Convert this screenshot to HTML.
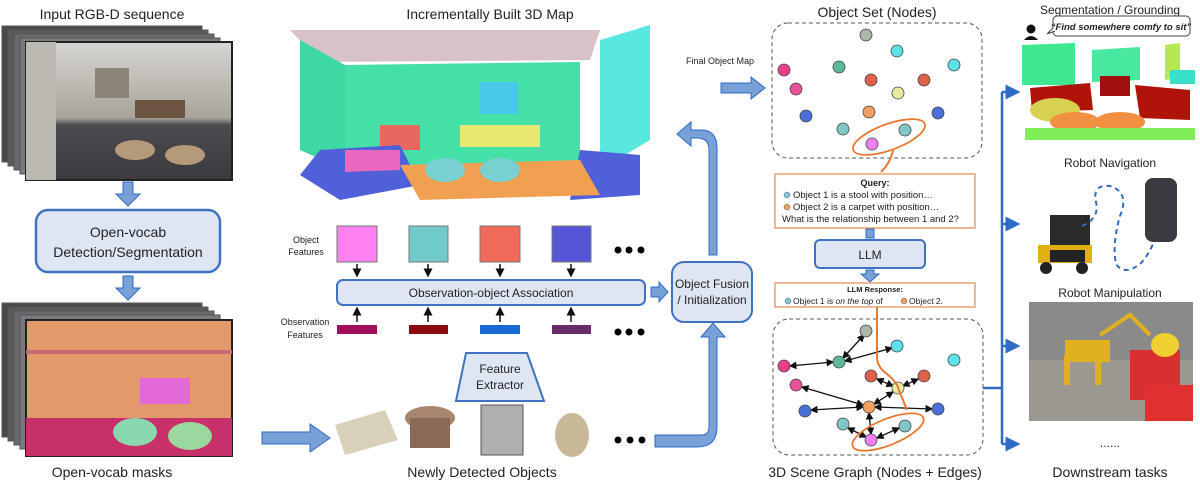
<!DOCTYPE html>
<html><head><meta charset="utf-8"><style>
body{margin:0;background:#fff;}
svg{display:block;font-family:"Liberation Sans",sans-serif;}
</style></head><body>
<svg width="1200" height="488" viewBox="0 0 1200 488" xmlns="http://www.w3.org/2000/svg">
<defs>
<marker id="ah" markerWidth="6" markerHeight="6" refX="5" refY="3" orient="auto"><path d="M0,0 L6,3 L0,6 z" fill="#111"/></marker>
<marker id="ahs" markerWidth="6" markerHeight="6" refX="1" refY="3" orient="auto"><path d="M6,0 L0,3 L6,6 z" fill="#111"/></marker>
<marker id="bh" markerWidth="6" markerHeight="6" refX="5" refY="3" orient="auto"><path d="M0,0 L6,3 L0,6 z" fill="#2f6bc4"/></marker>
<linearGradient id="room" x1="0" y1="0" x2="0" y2="1"><stop offset="0" stop-color="#d8d6d2"/><stop offset="0.55" stop-color="#a8a49c"/><stop offset="0.6" stop-color="#4c4c50"/><stop offset="1" stop-color="#3a3a3e"/></linearGradient>
</defs>

<text x="112" y="19" font-size="14" text-anchor="middle" fill="#222">Input RGB-D sequence</text>
<g stroke="#555" stroke-width="1">
<rect x="2" y="26" width="200" height="136" fill="#4a4a4e"/>
<rect x="8" y="30" width="200" height="136" fill="#5a5a5e"/>
<rect x="14" y="34" width="200" height="136" fill="#6a6a6e"/>
<rect x="20" y="38" width="200" height="136" fill="#7a7a7e"/>
<rect x="26" y="42" width="206" height="138" fill="url(#room)" stroke="#222" stroke-width="2"/>
</g>
<rect x="95" y="68" width="34" height="30" fill="#8a8478"/>
<rect x="135" y="100" width="50" height="18" fill="#6b5440"/>
<ellipse cx="135" cy="150" rx="20" ry="10" fill="#b49a78"/>
<ellipse cx="185" cy="155" rx="20" ry="10" fill="#b49a78"/>
<rect x="26" y="42" width="30" height="138" fill="#bcb8b2"/>

<path d="M123,182 h10 v12 h7 l-12,12 l-12,-12 h7 z" fill="#7aa0d8" stroke="#2f6bc4"/>
<rect x="36" y="210" width="184" height="62" rx="12" fill="#dfe6f3" stroke="#3f72c0" stroke-width="2.5"/>
<text x="128" y="237" font-size="14" text-anchor="middle" fill="#222">Open-vocab</text>
<text x="128" y="257" font-size="14" text-anchor="middle" fill="#222">Detection/Segmentation</text>
<path d="M123,276 h10 v12 h7 l-12,12 l-12,-12 h7 z" fill="#7aa0d8" stroke="#2f6bc4"/>

<g stroke="#555">
<rect x="2" y="303" width="200" height="134" fill="#4a4a4e"/>
<rect x="8" y="307" width="200" height="134" fill="#5a5a5e"/>
<rect x="14" y="311" width="200" height="134" fill="#6a6a6e"/>
<rect x="20" y="315" width="200" height="134" fill="#7a7a7e"/>
<rect x="26" y="320" width="206" height="136" fill="#e39a6a" stroke="#222" stroke-width="2"/>
</g>
<rect x="26" y="418" width="206" height="38" fill="#c8306a"/>
<rect x="140" y="378" width="50" height="26" fill="#e36ad6"/>
<ellipse cx="135" cy="432" rx="22" ry="14" fill="#8ad8b0"/>
<ellipse cx="190" cy="436" rx="22" ry="14" fill="#9ad8a0"/>
<rect x="26" y="350" width="206" height="4" fill="#c86a78"/>
<text x="112" y="477" font-size="14" text-anchor="middle" fill="#222">Open-vocab masks</text>
<path d="M262,432 h48 v-8 l20,14 l-20,14 v-8 h-48 z" fill="#7aa0d8" stroke="#2f6bc4"/>

<text x="490" y="19" font-size="14" text-anchor="middle" fill="#222">Incrementally Built 3D Map</text>
<polygon points="290,30 600,30 590,60 320,62" fill="#c8a8b0" opacity="0.7"/>
<polygon points="300,40 345,65 345,170 300,150" fill="#3ed8a2"/>
<polygon points="345,65 580,62 580,160 345,170" fill="#44e0a8"/>
<rect x="480" y="82" width="38" height="32" fill="#48c8e8"/>
<rect x="460" y="125" width="80" height="22" fill="#e8e870"/>
<rect x="380" y="125" width="40" height="25" fill="#e86860"/>
<polygon points="600,40 650,25 650,140 600,170" fill="#58e8e0"/>
<polygon points="320,150 400,145 420,185 340,200 300,175" fill="#5060d8"/>
<polygon points="580,150 640,155 640,195 570,200" fill="#5060d8"/>
<polygon points="400,165 580,160 600,195 420,200" fill="#f0a050"/>
<ellipse cx="445" cy="170" rx="20" ry="12" fill="#78d0d0"/>
<ellipse cx="500" cy="170" rx="20" ry="12" fill="#78d0d0"/>
<polygon points="345,150 400,150 400,170 345,172" fill="#e868c0"/>

<text x="306" y="243" font-size="9" text-anchor="middle" fill="#222">Object</text>
<text x="306" y="255" font-size="9" text-anchor="middle" fill="#222">Features</text>
<rect x="337" y="226" width="40" height="36" fill="#ff80f0" stroke="#777"/>
<rect x="409" y="226" width="39" height="36" fill="#70cbc8" stroke="#777"/>
<rect x="480" y="226" width="40" height="36" fill="#ef6a58" stroke="#777"/>
<rect x="552" y="226" width="39" height="36" fill="#5555d6" stroke="#777"/>
<g fill="#000"><circle cx="618" cy="250" r="3.5"/><circle cx="629" cy="250" r="3.5"/><circle cx="641" cy="250" r="3.5"/></g>
<g stroke="#111" stroke-width="1.5" marker-end="url(#ah)">
<line x1="357" y1="264" x2="357" y2="276"/><line x1="428" y1="264" x2="428" y2="276"/><line x1="500" y1="264" x2="500" y2="276"/><line x1="571" y1="264" x2="571" y2="276"/>
<line x1="357" y1="322" x2="357" y2="308"/><line x1="428" y1="322" x2="428" y2="308"/><line x1="500" y1="322" x2="500" y2="308"/><line x1="571" y1="322" x2="571" y2="308"/>
</g>
<rect x="337" y="280" width="308" height="25" rx="6" fill="#dfe6f3" stroke="#3f72c0" stroke-width="2"/>
<text x="491" y="297" font-size="12" text-anchor="middle" fill="#222">Observation-object Association</text>
<path d="M651,287 h8 v-5 l9,10 l-9,10 v-5 h-8 z" fill="#7aa0d8" stroke="#2f6bc4"/>
<text x="305" y="325" font-size="9" text-anchor="middle" fill="#222">Observation</text>
<text x="305" y="338" font-size="9" text-anchor="middle" fill="#222">Features</text>
<rect x="337" y="325" width="40" height="9" fill="#a0105a"/>
<rect x="409" y="325" width="39" height="9" fill="#8b0c10"/>
<rect x="480" y="325" width="40" height="9" fill="#1a6ad6"/>
<rect x="552" y="325" width="39" height="9" fill="#6a2d6a"/>
<g fill="#000"><circle cx="618" cy="332" r="3.5"/><circle cx="629" cy="332" r="3.5"/><circle cx="641" cy="332" r="3.5"/></g>
<polygon points="466,353 527,353 544,401 456,401" fill="#dfe6f3" stroke="#3f72c0" stroke-width="2"/>
<text x="500" y="373" font-size="12" text-anchor="middle" fill="#222">Feature</text>
<text x="500" y="389" font-size="12" text-anchor="middle" fill="#222">Extractor</text>

<polygon points="335,425 385,410 398,440 345,455" fill="#d8d0b8"/>
<ellipse cx="430" cy="418" rx="25" ry="12" fill="#a88670"/>
<rect x="410" y="418" width="40" height="30" fill="#8a6a55"/>
<rect x="481" y="405" width="42" height="50" fill="#b0aeb0" stroke="#555"/>
<ellipse cx="572" cy="435" rx="17" ry="22" fill="#c8b898"/>
<g fill="#000"><circle cx="618" cy="440" r="3.5"/><circle cx="630" cy="440" r="3.5"/><circle cx="642" cy="440" r="3.5"/></g>
<text x="482" y="477" font-size="14" text-anchor="middle" fill="#222">Newly Detected Objects</text>

<rect x="672" y="262" width="80" height="60" rx="12" fill="#dfe6f3" stroke="#3f72c0" stroke-width="2"/>
<text x="712" y="288" font-size="12" text-anchor="middle" fill="#222">Object Fusion</text>
<text x="712" y="304" font-size="12" text-anchor="middle" fill="#222">/ Initialization</text>
<path d="M655,435 h46 q8,0 8,-8 v-90 h-8 l12,-14 l12,14 h-8 v90 q0,20 -20,20 h-42 z" fill="#7aa0d8" stroke="#2f6bc4"/>
<path d="M709,255 v-105 q0,-12 -12,-12 h-6 v8 l-14,-12 l14,-12 v8 h10 q16,0 16,18 v107 z" fill="#7aa0d8" stroke="#2f6bc4"/>
<text x="720" y="64" font-size="9" text-anchor="middle" fill="#222">Final Object Map</text>
<path d="M721,83 h30 v-6 l14,11 l-14,11 v-6 h-30 z" fill="#7aa0d8" stroke="#2f6bc4"/>

<text x="877" y="17" font-size="14" text-anchor="middle" fill="#222">Object Set (Nodes)</text>
<rect x="772" y="23" width="210" height="135" rx="16" fill="none" stroke="#555" stroke-dasharray="4,3"/>
<g stroke="#444" stroke-width="0.8">
<circle cx="866" cy="35" r="6" fill="#a8b8a8"/><circle cx="897" cy="51" r="6" fill="#5ee0ea"/><circle cx="839" cy="67" r="6" fill="#5cb898"/>
<circle cx="784" cy="70" r="6" fill="#e83e8c"/><circle cx="954" cy="65" r="6" fill="#5ee0ea"/><circle cx="871" cy="80" r="6" fill="#e0604c"/>
<circle cx="924" cy="80" r="6" fill="#e0604c"/><circle cx="898" cy="93" r="6" fill="#e8eca0"/><circle cx="796" cy="89" r="6" fill="#e8509c"/>
<circle cx="869" cy="112" r="6" fill="#f0a060"/><circle cx="806" cy="116" r="6" fill="#4a70d8"/><circle cx="938" cy="113" r="6" fill="#4a70d8"/>
<circle cx="843" cy="129" r="6" fill="#80c8c8"/><circle cx="905" cy="130" r="6" fill="#80c8c8"/><circle cx="872" cy="144" r="6" fill="#f080f0"/>
</g>
<ellipse cx="889" cy="137" rx="38" ry="13" transform="rotate(-20 889 137)" fill="none" stroke="#e87830" stroke-width="1.8"/>
<path d="M893,150 q-2,12 -12,22" fill="none" stroke="#e87830" stroke-width="2"/>

<rect x="775" y="174" width="200" height="54" fill="#fff" stroke="#e8a070" stroke-width="1.5"/>
<text x="875" y="186" font-size="9" font-weight="bold" text-anchor="middle" fill="#222">Query:</text>
<circle cx="787" cy="195" r="3" fill="#80c8d8" stroke="#555" stroke-width="0.5"/>
<text x="793" y="198" font-size="9.5" fill="#222">Object 1 is a stool with position…</text>
<circle cx="787" cy="207" r="3" fill="#f0a060" stroke="#555" stroke-width="0.5"/>
<text x="793" y="210" font-size="9.5" fill="#222">Object 2 is a carpet with position…</text>
<text x="782" y="222" font-size="9.5" fill="#222">What is the relationship between 1 and 2?</text>
<path d="M866,229 h8 v9 h-8 z" fill="#7aa0d8" stroke="#2f6bc4"/>
<rect x="815" y="240" width="110" height="28" rx="5" fill="#dfe6f3" stroke="#3f72c0" stroke-width="2"/>
<text x="870" y="259" font-size="12" text-anchor="middle" fill="#222">LLM</text>
<path d="M866,270 h8 v4 h5 l-9,8 l-9,-8 h5 z" fill="#7aa0d8" stroke="#2f6bc4"/>
<rect x="775" y="283" width="200" height="24" fill="#fff" stroke="#e8a070" stroke-width="1.5"/>
<text x="875" y="292" font-size="7.5" font-weight="bold" text-anchor="middle" fill="#222">LLM Response:</text>
<circle cx="788" cy="301" r="3" fill="#80c8d8" stroke="#555" stroke-width="0.5"/>
<text x="793" y="304" font-size="8.5" fill="#222">Object 1 is <tspan font-style="italic">on the top</tspan> of</text>
<circle cx="904" cy="301" r="3" fill="#f0a060" stroke="#555" stroke-width="0.5"/>
<text x="909" y="304" font-size="8.5" fill="#222">Object 2.</text>

<rect x="773" y="319" width="210" height="136" rx="16" fill="none" stroke="#555" stroke-dasharray="4,3"/>
<g stroke="#111" stroke-width="1.3" marker-end="url(#ah)" marker-start="url(#ahs)">
<line x1="864" y1="335" x2="843" y2="358"/><line x1="892" y1="348" x2="845" y2="361"/><line x1="790" y1="366" x2="833" y2="362"/>
<line x1="877" y1="379" x2="893" y2="386"/><line x1="918" y1="379" x2="903" y2="386"/><line x1="893" y1="392" x2="874" y2="404"/>
<line x1="802" y1="387" x2="863" y2="405"/><line x1="811" y1="410" x2="863" y2="407"/><line x1="932" y1="409" x2="875" y2="407"/>
<line x1="869" y1="413" x2="871" y2="434"/><line x1="848" y1="428" x2="866" y2="437"/><line x1="899" y1="428" x2="877" y2="438"/>
</g>
<g stroke="#444" stroke-width="0.8">
<circle cx="866" cy="331" r="6" fill="#a8b8a8"/><circle cx="897" cy="346" r="6" fill="#5ee0ea"/><circle cx="839" cy="362" r="6" fill="#5cb898"/>
<circle cx="784" cy="366" r="6" fill="#e83e8c"/><circle cx="954" cy="360" r="6" fill="#5ee0ea"/><circle cx="871" cy="376" r="6" fill="#e0604c"/>
<circle cx="924" cy="376" r="6" fill="#e0604c"/><circle cx="898" cy="388" r="6" fill="#e8eca0"/><circle cx="796" cy="385" r="6" fill="#e8509c"/>
<circle cx="869" cy="407" r="6" fill="#f0a060"/><circle cx="805" cy="411" r="6" fill="#4a70d8"/><circle cx="938" cy="409" r="6" fill="#4a70d8"/>
<circle cx="843" cy="424" r="6" fill="#80c8c8"/><circle cx="905" cy="426" r="6" fill="#80c8c8"/><circle cx="871" cy="440" r="6" fill="#f080f0"/>
</g>
<ellipse cx="888" cy="432" rx="38" ry="13" transform="rotate(-22 888 432)" fill="none" stroke="#e87830" stroke-width="1.8"/>
<path d="M877,307 v50 q0,10 10,17 q10,8 12,16 l8,20" fill="none" stroke="#e87830" stroke-width="2"/>
<text x="875" y="477" font-size="14" text-anchor="middle" fill="#222">3D Scene Graph (Nodes + Edges)</text>

<g stroke="#2f6bc4" stroke-width="2.5" fill="none">
<line x1="1002" y1="92" x2="1002" y2="444"/>
<line x1="1002" y1="92" x2="1018" y2="92" marker-end="url(#bh)"/>
<line x1="1002" y1="224" x2="1018" y2="224" marker-end="url(#bh)"/>
<line x1="1002" y1="346" x2="1018" y2="346" marker-end="url(#bh)"/>
<line x1="1002" y1="444" x2="1018" y2="444" marker-end="url(#bh)"/>
<line x1="983" y1="388" x2="1002" y2="388"/>
</g>
<text x="1110" y="14" font-size="12" text-anchor="middle" fill="#222">Segmentation / Grounding</text>
<circle cx="1031" cy="29" r="4.5" fill="#111"/><path d="M1024,40 q7,-8 14,0 z" fill="#111"/>
<rect x="1053" y="16" width="137" height="20" rx="4" fill="#fff" stroke="#444"/>
<path d="M1053,28 l-6,6 l8,-3" fill="#fff" stroke="#444"/>
<text x="1121" y="30" font-size="9.5" font-style="italic" font-weight="bold" text-anchor="middle" fill="#222">“Find somewhere comfy to sit”</text>
<polygon points="1022,45 1075,43 1075,85 1022,85" fill="#3ee890"/>
<polygon points="1092,50 1140,47 1140,80 1092,82" fill="#48e8a0"/>
<polygon points="1165,45 1180,43 1180,78 1165,80" fill="#b8e850"/>
<rect x="1170" y="70" width="25" height="14" fill="#38e0c8"/>
<polygon points="1030,88 1090,83 1093,110 1032,112" fill="#b01408"/>
<rect x="1100" y="76" width="30" height="20" fill="#a01010"/>
<polygon points="1135,85 1190,90 1190,120 1140,118" fill="#b01408"/>
<ellipse cx="1055" cy="110" rx="25" ry="12" fill="#d8d050"/>
<ellipse cx="1075" cy="122" rx="25" ry="10" fill="#f09040"/>
<ellipse cx="1120" cy="122" rx="25" ry="10" fill="#f09040"/>
<polygon points="1025,128 1195,128 1195,140 1025,140" fill="#80ee58"/>
<text x="1110" y="167" font-size="12" text-anchor="middle" fill="#222">Robot Navigation</text>
<rect x="1050" y="215" width="40" height="35" fill="#2a2a2a"/>
<rect x="1038" y="245" width="54" height="18" fill="#e0b010"/>
<rect x="1050" y="250" width="35" height="12" fill="#222"/>
<circle cx="1046" cy="268" r="6" fill="#222"/><circle cx="1082" cy="268" r="6" fill="#222"/>
<path d="M1082,226 q18,-8 14,-24 q-4,-18 14,-16 q20,6 10,30 q-8,28 -4,48 q8,12 24,0 q10,-10 16,-28" fill="none" stroke="#2f6bc4" stroke-width="2" stroke-dasharray="5,4"/>
<rect x="1145" y="178" width="32" height="64" rx="8" fill="#3a3a40"/>
<text x="1110" y="297" font-size="12" text-anchor="middle" fill="#222">Robot Manipulation</text>
<rect x="1029" y="302" width="164" height="119" fill="#8a8a88"/>
<rect x="1029" y="360" width="164" height="61" fill="#9a9890"/>
<rect x="1130" y="350" width="50" height="50" fill="#d83030"/>
<rect x="1145" y="385" width="48" height="36" fill="#e03030"/>
<ellipse cx="1165" cy="345" rx="14" ry="12" fill="#f0d030"/>
<rect x="1065" y="340" width="45" height="22" fill="#e0b020"/>
<rect x="1064" y="355" width="6" height="30" fill="#e0b020"/><rect x="1095" y="355" width="6" height="30" fill="#e0b020"/>
<path d="M1100,335 l30,-20 l20,20" fill="none" stroke="#e0b020" stroke-width="4"/>
<text x="1110" y="447" font-size="12" text-anchor="middle" fill="#222">......</text>
<text x="1110" y="477" font-size="14" text-anchor="middle" fill="#222">Downstream tasks</text>
</svg>
</body></html>
